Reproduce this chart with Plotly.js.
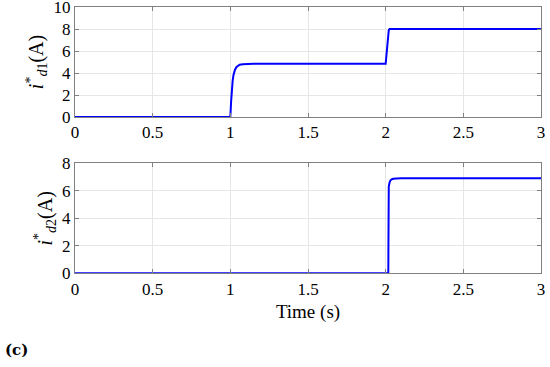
<!DOCTYPE html>
<html>
<head>
<meta charset="utf-8">
<script src="https://cdn.plot.ly/plotly-3.0.1.min.js"></script>
<style>html,body{margin:0;padding:0;background:#fff;}#chart{width:550px;height:367px;}</style>
</head>
<body>
<div id="chart"></div>
<script>
// Top panel: i*_d1 reference current
const t1 = [0, 1.0, 1.005, 1.01, 1.015, 1.02, 1.03, 1.04, 1.05, 1.06, 1.08, 1.1, 1.15, 1.2, 2.0, 2.005, 2.01, 2.015, 2.02, 2.025, 3.0];
const id1 = [0, 0, 1.4, 2.6, 3.3, 3.8, 4.3, 4.55, 4.68, 4.75, 4.8, 4.83, 4.85, 4.85, 4.85, 5.6, 6.5, 7.3, 7.9, 8.0, 8.0];
// Bottom panel: i*_d2 reference current
const t2 = [0, 2.017, 2.018, 2.019, 2.02, 2.025, 2.03, 2.04, 2.05, 2.07, 2.1, 3.0];
const id2 = [0, 0, 2.5, 5.0, 6.3, 6.6, 6.75, 6.84, 6.88, 6.9, 6.91, 6.91];
const xTicks = [0, 0.5, 1, 1.5, 2, 2.5, 3];
const xTickText = ["0", "0.5", "1", "1.5", "2", "2.5", "3"];
const y1Ticks = [0, 2, 4, 6, 8, 10];
const y2Ticks = [0, 2, 4, 6, 8];

const SERIF = '"Liberation Serif", "Times New Roman", Times, serif';
const lineStyle = {color: '#0000ff', width: 2};
const data = [
  {x: t1, y: id1, type: 'scatter', mode: 'lines', line: lineStyle, xaxis: 'x', yaxis: 'y'},
  {x: t2, y: id2, type: 'scatter', mode: 'lines', line: lineStyle, xaxis: 'x2', yaxis: 'y2'}
];
function tf() { return {family: SERIF, size: 17, color: '#000'}; }
function ax(extra) {
  return Object.assign({
    showline: true, linecolor: '#808080', linewidth: 1, mirror: 'allticks',
    ticks: 'inside', ticklen: 4, tickcolor: '#808080',
    showgrid: true, gridcolor: '#e6e6e6', gridwidth: 1, zeroline: false,
    tickfont: tf(), ticklabeloverflow: 'allow'
  }, extra);
}
const xDom = [75/550, 541/550];
const layout = {
  width: 550, height: 367,
  margin: {l: 0, r: 0, t: 0, b: 0},
  paper_bgcolor: '#fff', plot_bgcolor: '#fff',
  showlegend: false,
  font: {family: SERIF, size: 17, color: '#000'},
  xaxis: ax({domain: xDom, range: [0, 3], tickvals: xTicks, ticktext: xTickText, anchor: 'y'}),
  yaxis: ax({domain: [1 - 117/367, 1 - 7/367], range: [0, 10], tickvals: y1Ticks, anchor: 'x',
    title: {text: '<i>i</i><sup>*</sup><sub><i>d</i>1</sub>(A)', font: {family: SERIF, size: 20, color: '#000'}, standoff: 4}}),
  xaxis2: ax({domain: xDom, range: [0, 3], tickvals: xTicks, ticktext: xTickText, anchor: 'y2',
    title: {text: 'Time (s)', font: {family: SERIF, size: 19, color: '#000'}, standoff: 6}}),
  yaxis2: ax({domain: [1 - 273.3/367, 1 - 163.3/367], range: [0, 8], tickvals: y2Ticks, anchor: 'x2',
    title: {text: '<i>i</i><sup>*</sup><sub><i>d</i>2</sub>(A)', font: {family: SERIF, size: 20, color: '#000'}, standoff: 4}}),
  annotations: [
    {text: '<b>(c)</b>', xref: 'paper', yref: 'paper', x: 3/550, y: 1 - 350/367, xanchor: 'left', yanchor: 'middle', showarrow: false,
     font: {family: '"DejaVu Serif", serif', size: 15, color: '#000'}}
  ]
};
Plotly.newPlot('chart', data, layout, {staticPlot: true, displayModeBar: false});
</script>
</body>
</html>
